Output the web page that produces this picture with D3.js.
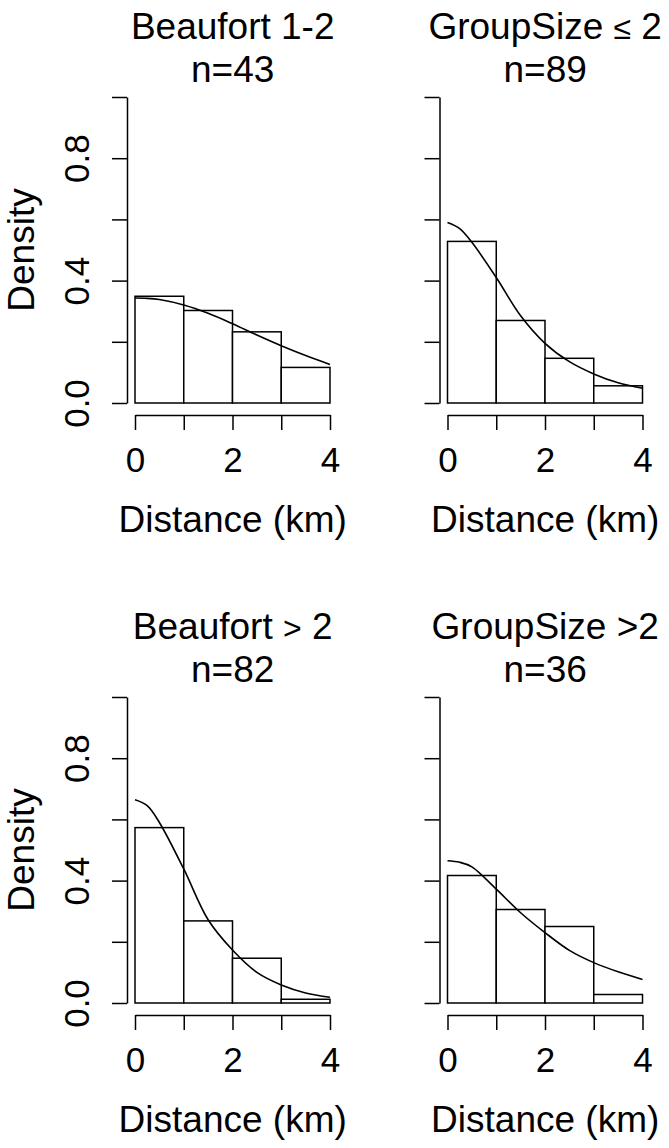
<!DOCTYPE html>
<meta charset="utf-8">
<style>

body { margin: 0; background: #fff; }

svg {
  display: block;
  font-family: "Liberation Sans", Arial, sans-serif;
}

.axis path, .axis line {
  stroke: #000;
  stroke-width: 1.5px;
}

.axis text {
  fill: #000;
  font-size: 35px;
  font-family: "Liberation Sans", Arial, sans-serif;
}

.bar {
  fill: #fff;
  stroke: #000;
  stroke-width: 1.5px;
}

.fit {
  fill: none;
  stroke: #000;
  stroke-width: 1.6px;
}

</style>
<svg width="669" height="1148"></svg>
<script src="https://d3js.org/d3.v7.min.js"></script>
<script>

// panel titles (split where R plotmath puts a symbol)
var titleParts = [
  ["Beaufort 1-2"],
  ["GroupSize ", "\u2264", " 2"],
  ["Beaufort ", ">", " 2"],
  ["GroupSize >2"]
];
var sampleSizes = [43, 89, 82, 36];

// histogram: 1 km bins, counts per bin
var binEdges = [0, 1, 2, 3];
var binCounts = [
  [15, 13, 10, 5],
  [47, 24, 13, 5],
  [47, 22, 12, 1],
  [15, 11, 9, 1]
];

// fitted detection function (density)
var fitX = [0, 0.25, 0.5, 1, 1.5, 2, 2.5, 3, 3.5, 4];
var fitDensity = [
  [0.343, 0.342, 0.338, 0.320, 0.293, 0.259, 0.222, 0.187, 0.155, 0.126],
  [0.590, 0.570, 0.525, 0.410, 0.285, 0.195, 0.135, 0.095, 0.066, 0.048],
  [0.664, 0.645, 0.590, 0.438, 0.272, 0.173, 0.100, 0.059, 0.033, 0.019],
  [0.465, 0.460, 0.445, 0.372, 0.295, 0.230, 0.172, 0.132, 0.102, 0.077]
];

var yTicks = [0, 0.2, 0.4, 0.6, 0.8, 1.0];
var yLabelled = [0, 0.4, 0.8];
var xTicks = [0, 1, 2, 3, 4];
var xLabelled = [0, 2, 4];

var svg = d3.select("svg");

sampleSizes.forEach(function(n, i) {
  var ox = (i % 2) * 312.5,
      oy = Math.floor(i / 2) * 600,
      leftCol = (i % 2 === 0);

  var x = d3.scaleLinear().domain([0, 4]).range([135 + ox, 330 + ox]);
  var y = d3.scaleLinear().domain([0, 1]).range([403 + oy, 97 + oy]);
  var cx = 232.7 + ox;

  var g = svg.append("g");

  // bars
  g.selectAll(".bar")
    .data(binEdges)
    .enter().append("rect")
      .attr("class", "bar")
      .attr("x", function(d) { return x(d); })
      .attr("width", function(d) { return x(d + 1) - x(d); })
      .attr("y", function(d, j) { return y(binCounts[i][j] / n); })
      .attr("height", function(d, j) { return y(0) - y(binCounts[i][j] / n); });

  // fitted curve
  var line = d3.line()
      .x(function(d) { return x(d); })
      .y(function(d, j) { return y(fitDensity[i][j]); })
      .curve(d3.curveCatmullRom);

  g.append("path")
      .attr("class", "fit")
      .attr("d", line(fitX));

  // y axis (labels only on the left column)
  var yAxis = g.append("g")
      .attr("class", "axis")
      .attr("transform", "translate(" + (127 + ox) + ",0)")
      .call(d3.axisLeft(y)
        .tickValues(yTicks)
        .tickSize(15)
        .tickSizeOuter(0)
        .tickFormat(function(d) {
          return leftCol && yLabelled.indexOf(d) >= 0 ? d3.format(".1f")(d) : "";
        }));

  yAxis.selectAll("text")
      .attr("x", 0)
      .attr("y", 0)
      .attr("dy", 0)
      .attr("text-anchor", "middle")
      .attr("transform", "translate(-38,0) rotate(-90)");

  // x axis
  var xAxis = g.append("g")
      .attr("class", "axis")
      .attr("transform", "translate(0," + (415 + oy) + ")")
      .call(d3.axisBottom(x)
        .tickValues(xTicks)
        .tickSize(15)
        .tickSizeOuter(0)
        .tickFormat(function(d) { return xLabelled.indexOf(d) >= 0 ? d : ""; }));

  xAxis.selectAll("text")
      .attr("y", 45)
      .attr("dy", "0.35em");

  // title
  var title = g.append("text")
      .attr("x", cx)
      .attr("y", 39 + oy)
      .attr("text-anchor", "middle")
      .style("font-size", "37px");

  titleParts[i].forEach(function(p, k) {
    var t = title.append("tspan").text(p);
    if (k === 1) t.style("font-size", "32px");
  });

  g.append("text")
      .attr("x", cx)
      .attr("y", 81.5 + oy)
      .attr("text-anchor", "middle")
      .style("font-size", "37px")
      .text("n=" + n);

  // axis titles
  g.append("text")
      .attr("x", cx)
      .attr("y", 532 + oy)
      .attr("text-anchor", "middle")
      .style("font-size", "37px")
      .text("Distance (km)");

  if (leftCol) {
    g.append("text")
        .attr("transform", "translate(34," + (250 + oy) + ") rotate(-90)")
        .attr("text-anchor", "middle")
        .style("font-size", "37px")
        .text("Density");
  }
});

</script>
